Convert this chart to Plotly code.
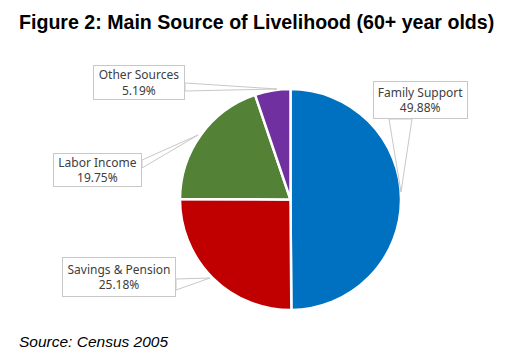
import plotly.graph_objects as go

labels = ["Family Support", "Savings & Pension", "Labor Income", "Other Sources"]
values = [49.88, 25.18, 19.75, 5.19]
colors = ["#0070C0", "#C00000", "#538135", "#7030A0"]

W, H = 514, 356


def px(x, y):
    return x / W, 1 - y / H


fig = go.Figure()
fig.add_trace(go.Pie(
    labels=labels, values=values, sort=False, direction="clockwise", rotation=0,
    marker=dict(colors=colors, line=dict(color="white", width=2.5)),
    textinfo="none", hoverinfo="label+percent", showlegend=False,
    domain=dict(x=[180 / W, 401 / W], y=[1 - 310 / H, 1 - 89 / H]),
))

# callout boxes: (center x, center y, width, height) in pixels
boxes = {
    "Family Support": (420.5, 100, 89, 32),
    "Savings & Pension": (119, 277, 108, 34),
    "Labor Income": (97.5, 170, 83, 28),
    "Other Sources": (139, 82.5, 86, 29),
}
# callout wedges: base point 1, base point 2, tip
wedges = {
    "Family Support": ((389, 119), (412, 119), (401, 192)),
    "Savings & Pension": ((176, 279), (176, 290), (210, 278)),
    "Labor Income": ((142, 160), (142, 168), (198, 135)),
    "Other Sources": ((185, 83), (185, 91), (277, 89)),
}

shapes = []
for lab in labels:
    pts = [px(*p) for p in wedges[lab]]
    path = "M {} {} L {} {} L {} {} Z".format(pts[0][0], pts[0][1], pts[2][0], pts[2][1], pts[1][0], pts[1][1])
    shapes.append(dict(type="path", xref="paper", yref="paper", path=path,
                       line=dict(color="#c8c8c8", width=1), fillcolor="white", layer="above"))

annotations = []
for lab, val in zip(labels, values):
    cx, cy, bw, bh = boxes[lab]
    x, y = px(cx, cy)
    annotations.append(dict(
        x=x, y=y, xref="paper", yref="paper", xanchor="center", yanchor="middle",
        text=f"{lab}<br>{val:.2f}%", showarrow=False, align="center",
        font=dict(family="Noto Sans", size=12, color="#404040"),
        bgcolor="white", bordercolor="#c8c8c8", borderwidth=1, borderpad=2,
        width=bw, height=bh,
    ))

tx, ty = px(17, 22)
annotations.append(dict(
    x=tx, y=ty, xref="paper", yref="paper", xanchor="left", yanchor="middle",
    text="<b>Figure 2: Main Source of Livelihood (60+ year olds)</b>", showarrow=False,
    font=dict(family="Liberation Sans", size=19.6, color="#000000"),
))
sx, sy = px(17, 341)
annotations.append(dict(
    x=sx, y=sy, xref="paper", yref="paper", xanchor="left", yanchor="middle",
    text="<i>Source: Census 2005</i>", showarrow=False,
    font=dict(family="Liberation Sans", size=15.5, color="#000000"),
))

fig.update_layout(
    width=W, height=H, margin=dict(l=0, r=0, t=0, b=0),
    paper_bgcolor="white", plot_bgcolor="white",
    shapes=shapes, annotations=annotations,
)

fig.write_html("out.html", config={"displayModeBar": False},
               post_script="document.body.style.margin='0';document.body.style.overflow='hidden';")
